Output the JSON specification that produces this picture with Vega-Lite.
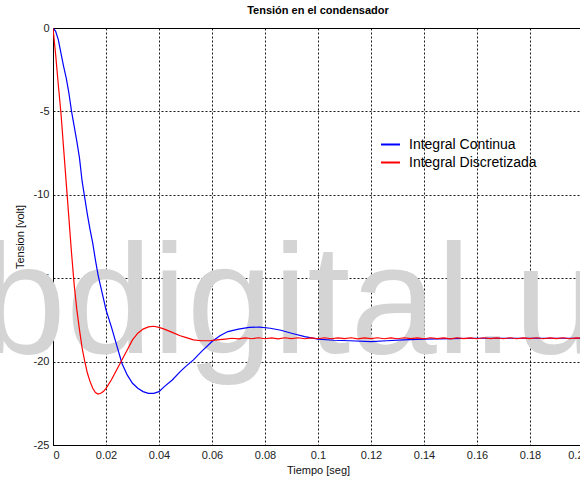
{
  "$schema": "https://vega.github.io/schema/vega-lite/v6.json",
  "autosize": "none",
  "width": 530,
  "height": 417,
  "padding": {"left": 53, "top": 28, "right": 0, "bottom": 33},
  "background": "white",
  "title": {"text": "Tensión en el condensador", "font": "Liberation Sans", "fontSize": 11, "fontWeight": "bold", "color": "#000", "offset": 6, "anchor": "middle"},
  "config": {
    "view": {"stroke": "#000", "strokeWidth": 1},
    "axis": {
      "zindex": 1,
      "domainColor": "#000",
      "grid": true,
      "gridColor": "#000",
      "gridDash": [2, 2],
      "gridWidth": 1,
      "gridOpacity": 0.9,
      "ticks": false,
      "labelFont": "Liberation Sans",
      "labelFontSize": 11,
      "labelColor": "#222",
      "titleFont": "Liberation Sans",
      "titleFontSize": 11,
      "titleFontWeight": "normal",
      "titleColor": "#111"
    },
    "legend": {"labelFont": "Liberation Sans", "labelFontSize": 14, "labelColor": "#000"}
  },
  "datasets": {
    "wm": [{"t": -0.0276, "v": -19.48, "label": "bdigital.ula.ve"}],
    "curves": [
      {"s": "Integral Continua", "t": 0, "v": 0},
      {"s": "Integral Continua", "t": 0.001, "v": -0.2},
      {"s": "Integral Continua", "t": 0.002, "v": -0.7},
      {"s": "Integral Continua", "t": 0.003, "v": -1.5},
      {"s": "Integral Continua", "t": 0.004, "v": -2.3},
      {"s": "Integral Continua", "t": 0.005, "v": -3.0},
      {"s": "Integral Continua", "t": 0.006, "v": -3.9},
      {"s": "Integral Continua", "t": 0.007, "v": -5.0},
      {"s": "Integral Continua", "t": 0.008, "v": -5.9},
      {"s": "Integral Continua", "t": 0.009, "v": -6.8},
      {"s": "Integral Continua", "t": 0.010, "v": -7.8},
      {"s": "Integral Continua", "t": 0.011, "v": -9.2},
      {"s": "Integral Continua", "t": 0.012, "v": -10.2},
      {"s": "Integral Continua", "t": 0.013, "v": -11.2},
      {"s": "Integral Continua", "t": 0.014, "v": -12.1},
      {"s": "Integral Continua", "t": 0.015, "v": -12.9},
      {"s": "Integral Continua", "t": 0.016, "v": -13.9},
      {"s": "Integral Continua", "t": 0.017, "v": -14.8},
      {"s": "Integral Continua", "t": 0.018, "v": -15.5},
      {"s": "Integral Continua", "t": 0.019, "v": -16.2},
      {"s": "Integral Continua", "t": 0.020, "v": -16.9},
      {"s": "Integral Continua", "t": 0.022, "v": -17.9},
      {"s": "Integral Continua", "t": 0.024, "v": -19.0},
      {"s": "Integral Continua", "t": 0.026, "v": -20.1},
      {"s": "Integral Continua", "t": 0.028, "v": -20.8},
      {"s": "Integral Continua", "t": 0.030, "v": -21.3},
      {"s": "Integral Continua", "t": 0.032, "v": -21.6},
      {"s": "Integral Continua", "t": 0.034, "v": -21.8},
      {"s": "Integral Continua", "t": 0.036, "v": -21.9},
      {"s": "Integral Continua", "t": 0.038, "v": -21.9},
      {"s": "Integral Continua", "t": 0.040, "v": -21.8},
      {"s": "Integral Continua", "t": 0.042, "v": -21.5},
      {"s": "Integral Continua", "t": 0.045, "v": -21.1},
      {"s": "Integral Continua", "t": 0.048, "v": -20.6},
      {"s": "Integral Continua", "t": 0.050, "v": -20.3},
      {"s": "Integral Continua", "t": 0.053, "v": -19.9},
      {"s": "Integral Continua", "t": 0.056, "v": -19.4},
      {"s": "Integral Continua", "t": 0.060, "v": -18.8},
      {"s": "Integral Continua", "t": 0.063, "v": -18.45},
      {"s": "Integral Continua", "t": 0.066, "v": -18.2},
      {"s": "Integral Continua", "t": 0.070, "v": -18.05},
      {"s": "Integral Continua", "t": 0.074, "v": -17.95},
      {"s": "Integral Continua", "t": 0.078, "v": -17.93},
      {"s": "Integral Continua", "t": 0.082, "v": -18.0},
      {"s": "Integral Continua", "t": 0.086, "v": -18.12},
      {"s": "Integral Continua", "t": 0.090, "v": -18.3},
      {"s": "Integral Continua", "t": 0.095, "v": -18.5},
      {"s": "Integral Continua", "t": 0.100, "v": -18.65},
      {"s": "Integral Continua", "t": 0.106, "v": -18.72},
      {"s": "Integral Continua", "t": 0.112, "v": -18.75},
      {"s": "Integral Continua", "t": 0.120, "v": -18.8},
      {"s": "Integral Continua", "t": 0.126, "v": -18.75},
      {"s": "Integral Continua", "t": 0.132, "v": -18.7},
      {"s": "Integral Continua", "t": 0.140, "v": -18.65},
      {"s": "Integral Continua", "t": 0.150, "v": -18.62},
      {"s": "Integral Continua", "t": 0.160, "v": -18.6},
      {"s": "Integral Continua", "t": 0.170, "v": -18.6},
      {"s": "Integral Continua", "t": 0.180, "v": -18.6},
      {"s": "Integral Continua", "t": 0.190, "v": -18.6},
      {"s": "Integral Continua", "t": 0.200, "v": -18.6},
      {"s": "Integral Discretizada", "t": 0, "v": 0},
      {"s": "Integral Discretizada", "t": 0.001, "v": -1.6},
      {"s": "Integral Discretizada", "t": 0.002, "v": -3.4},
      {"s": "Integral Discretizada", "t": 0.003, "v": -5.1},
      {"s": "Integral Discretizada", "t": 0.004, "v": -7.2},
      {"s": "Integral Discretizada", "t": 0.005, "v": -9.3},
      {"s": "Integral Discretizada", "t": 0.006, "v": -11.4},
      {"s": "Integral Discretizada", "t": 0.007, "v": -13.5},
      {"s": "Integral Discretizada", "t": 0.008, "v": -15.4},
      {"s": "Integral Discretizada", "t": 0.009, "v": -16.9},
      {"s": "Integral Discretizada", "t": 0.010, "v": -18.1},
      {"s": "Integral Discretizada", "t": 0.011, "v": -19.2},
      {"s": "Integral Discretizada", "t": 0.012, "v": -20.0},
      {"s": "Integral Discretizada", "t": 0.013, "v": -20.7},
      {"s": "Integral Discretizada", "t": 0.014, "v": -21.2},
      {"s": "Integral Discretizada", "t": 0.015, "v": -21.6},
      {"s": "Integral Discretizada", "t": 0.016, "v": -21.85},
      {"s": "Integral Discretizada", "t": 0.017, "v": -21.95},
      {"s": "Integral Discretizada", "t": 0.018, "v": -21.9},
      {"s": "Integral Discretizada", "t": 0.019, "v": -21.8},
      {"s": "Integral Discretizada", "t": 0.020, "v": -21.6},
      {"s": "Integral Discretizada", "t": 0.022, "v": -21.1},
      {"s": "Integral Discretizada", "t": 0.024, "v": -20.5},
      {"s": "Integral Discretizada", "t": 0.026, "v": -19.9},
      {"s": "Integral Discretizada", "t": 0.028, "v": -19.3},
      {"s": "Integral Discretizada", "t": 0.030, "v": -18.7},
      {"s": "Integral Discretizada", "t": 0.032, "v": -18.3},
      {"s": "Integral Discretizada", "t": 0.034, "v": -18.05},
      {"s": "Integral Discretizada", "t": 0.036, "v": -17.92},
      {"s": "Integral Discretizada", "t": 0.038, "v": -17.88},
      {"s": "Integral Discretizada", "t": 0.040, "v": -17.95},
      {"s": "Integral Discretizada", "t": 0.042, "v": -18.05},
      {"s": "Integral Discretizada", "t": 0.045, "v": -18.25},
      {"s": "Integral Discretizada", "t": 0.048, "v": -18.45},
      {"s": "Integral Discretizada", "t": 0.050, "v": -18.55},
      {"s": "Integral Discretizada", "t": 0.053, "v": -18.7},
      {"s": "Integral Discretizada", "t": 0.056, "v": -18.75},
      {"s": "Integral Discretizada", "t": 0.059, "v": -18.75},
      {"s": "Integral Discretizada", "t": 0.062, "v": -18.7},
      {"s": "Integral Discretizada", "t": 0.065, "v": -18.65},
      {"s": "Integral Discretizada", "t": 0.0675, "v": -18.6},
      {"s": "Integral Discretizada", "t": 0.070, "v": -18.64},
      {"s": "Integral Discretizada", "t": 0.0725, "v": -18.58},
      {"s": "Integral Discretizada", "t": 0.075, "v": -18.63},
      {"s": "Integral Discretizada", "t": 0.0775, "v": -18.57},
      {"s": "Integral Discretizada", "t": 0.080, "v": -18.63},
      {"s": "Integral Discretizada", "t": 0.0825, "v": -18.58},
      {"s": "Integral Discretizada", "t": 0.085, "v": -18.64},
      {"s": "Integral Discretizada", "t": 0.0875, "v": -18.57},
      {"s": "Integral Discretizada", "t": 0.090, "v": -18.62},
      {"s": "Integral Discretizada", "t": 0.0925, "v": -18.57},
      {"s": "Integral Discretizada", "t": 0.095, "v": -18.63},
      {"s": "Integral Discretizada", "t": 0.0975, "v": -18.58},
      {"s": "Integral Discretizada", "t": 0.100, "v": -18.63},
      {"s": "Integral Discretizada", "t": 0.1025, "v": -18.57},
      {"s": "Integral Discretizada", "t": 0.105, "v": -18.63},
      {"s": "Integral Discretizada", "t": 0.1075, "v": -18.58},
      {"s": "Integral Discretizada", "t": 0.110, "v": -18.62},
      {"s": "Integral Discretizada", "t": 0.1125, "v": -18.57},
      {"s": "Integral Discretizada", "t": 0.115, "v": -18.64},
      {"s": "Integral Discretizada", "t": 0.1175, "v": -18.58},
      {"s": "Integral Discretizada", "t": 0.120, "v": -18.62},
      {"s": "Integral Discretizada", "t": 0.1225, "v": -18.57},
      {"s": "Integral Discretizada", "t": 0.125, "v": -18.63},
      {"s": "Integral Discretizada", "t": 0.1275, "v": -18.58},
      {"s": "Integral Discretizada", "t": 0.130, "v": -18.63},
      {"s": "Integral Discretizada", "t": 0.1325, "v": -18.57},
      {"s": "Integral Discretizada", "t": 0.135, "v": -18.62},
      {"s": "Integral Discretizada", "t": 0.1375, "v": -18.58},
      {"s": "Integral Discretizada", "t": 0.140, "v": -18.63},
      {"s": "Integral Discretizada", "t": 0.1425, "v": -18.57},
      {"s": "Integral Discretizada", "t": 0.145, "v": -18.62},
      {"s": "Integral Discretizada", "t": 0.1475, "v": -18.58},
      {"s": "Integral Discretizada", "t": 0.150, "v": -18.64},
      {"s": "Integral Discretizada", "t": 0.1525, "v": -18.57},
      {"s": "Integral Discretizada", "t": 0.155, "v": -18.62},
      {"s": "Integral Discretizada", "t": 0.1575, "v": -18.58},
      {"s": "Integral Discretizada", "t": 0.160, "v": -18.63},
      {"s": "Integral Discretizada", "t": 0.1625, "v": -18.57},
      {"s": "Integral Discretizada", "t": 0.165, "v": -18.62},
      {"s": "Integral Discretizada", "t": 0.1675, "v": -18.58},
      {"s": "Integral Discretizada", "t": 0.170, "v": -18.63},
      {"s": "Integral Discretizada", "t": 0.1725, "v": -18.57},
      {"s": "Integral Discretizada", "t": 0.175, "v": -18.63},
      {"s": "Integral Discretizada", "t": 0.1775, "v": -18.58},
      {"s": "Integral Discretizada", "t": 0.180, "v": -18.62},
      {"s": "Integral Discretizada", "t": 0.1825, "v": -18.57},
      {"s": "Integral Discretizada", "t": 0.185, "v": -18.63},
      {"s": "Integral Discretizada", "t": 0.1875, "v": -18.58},
      {"s": "Integral Discretizada", "t": 0.190, "v": -18.62},
      {"s": "Integral Discretizada", "t": 0.1925, "v": -18.57},
      {"s": "Integral Discretizada", "t": 0.195, "v": -18.63},
      {"s": "Integral Discretizada", "t": 0.1975, "v": -18.58},
      {"s": "Integral Discretizada", "t": 0.200, "v": -18.6}
    ]
  },
  "layer": [
    {
      "data": {"name": "wm"},
      "mark": {"type": "text", "align": "left", "baseline": "alphabetic", "font": "Liberation Sans", "fontSize": 155, "color": "#d4d4d4"},
      "encoding": {
        "x": {"field": "t", "type": "quantitative", "scale": {"domain": [0, 0.2], "nice": false}},
        "y": {"field": "v", "type": "quantitative", "scale": {"domain": [-25, 0], "nice": false}},
        "text": {"field": "label"}
      }
    },
    {
      "data": {"name": "curves"},
      "mark": {"type": "line", "clip": true, "strokeWidth": 1.2},
      "encoding": {
        "x": {"field": "t", "type": "quantitative", "title": "Tiempo [seg]",
              "axis": {"values": [0, 0.02, 0.04, 0.06, 0.08, 0.1, 0.12, 0.14, 0.16, 0.18, 0.2], "format": "~g", "labelPadding": 4, "titlePadding": 4}},
        "y": {"field": "v", "type": "quantitative", "title": "Tension [volt]",
              "axis": {"values": [0, -5, -10, -15, -20, -25], "labelExpr": "replace(datum.label, '\u2212', '-')", "labelPadding": 4, "titlePadding": 8}},
        "color": {"field": "s", "type": "nominal", "sort": null,
                  "scale": {"domain": ["Integral Continua", "Integral Discretizada"], "range": ["#0000ff", "#ff0000"]},
                  "legend": {"title": null, "orient": "none", "legendX": 327, "legendY": 106, "symbolType": "stroke", "symbolSize": 361, "symbolStrokeWidth": 2, "rowPadding": 0, "labelOffset": 8}},
        "order": {"field": "t", "type": "quantitative"}
      }
    }
  ]
}
